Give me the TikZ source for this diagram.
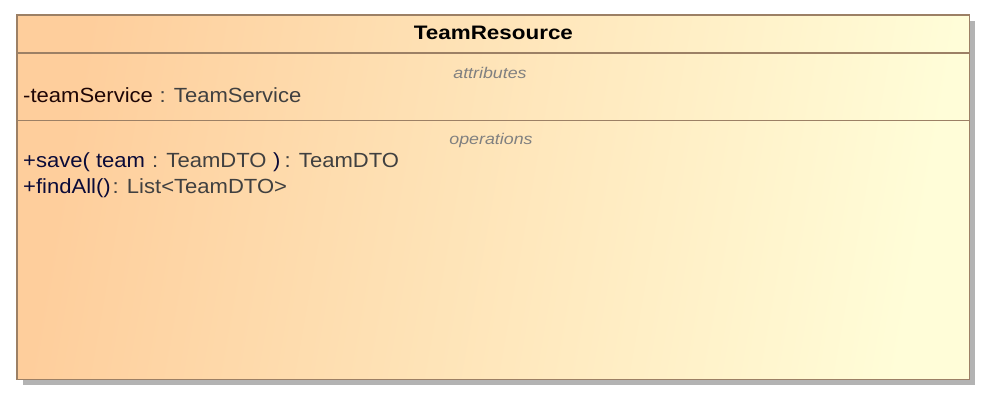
\documentclass[tikz,border=0pt]{standalone}
\usepackage{fontspec}
\setmainfont[FakeStretch=1.075]{Liberation Sans}
\newfontfamily\widesans[FakeStretch=1.15]{Liberation Sans}
\usetikzlibrary{shadings}
\definecolor{umlborder}{HTML}{9C8065}
\definecolor{umlshadow}{HTML}{B3B3B3}
\definecolor{fillwarm}{HTML}{FECE9C}
\definecolor{fillpale}{HTML}{FFFDD8}
\definecolor{namedark}{HTML}{1E0505}
\definecolor{opdark}{HTML}{0A0A38}
\definecolor{typegray}{HTML}{404040}
\definecolor{sectiongray}{HTML}{808080}
\tikzset{
  classtitle/.style={inner sep=0pt, anchor=base, font=\widesans\fontsize{19.5}{23}\selectfont\bfseries, text=black},
  sectionlabel/.style={inner sep=0pt, anchor=base, font=\widesans\fontsize{15.5}{19}\selectfont\itshape, text=sectiongray},
  member/.style={inner sep=0pt, anchor=base west, font=\fontsize{20.5}{24}\selectfont},
  attrname/.style={member, text=namedark},
  opname/.style={member, text=opdark},
  typepart/.style={member, text=typegray},
  divider/.style={draw=umlborder, line width=1.5pt},
}
\begin{document}
\begin{tikzpicture}[x=1pt, y=-1pt]
  \useasboundingbox (0,0) rectangle (994,406);
  % drop shadow
  \fill[umlshadow] (23,21) rectangle (975,385);
  % class body with warm gradient
  \shade[left color=fillwarm, right color=fillpale, shading angle=80]
    (17,15) rectangle (969.5,379.5);
  \draw[umlborder, line width=1.5pt] (17,15) rectangle (969.5,379.5);
  \draw[divider] (17,53) -- (969.5,53);
  \draw[divider] (17,120.5) -- (969.5,120.5);
  % title
  \node[classtitle] (title) at (493.4,39.7) {TeamResource};
  % attributes compartment
  \node[sectionlabel] (attrlabel) at (490,78.3) {attributes};
  \node[attrname] (attr) at (23,103) {-teamService};
  \node[typepart] (attrtype) at (159.5,103) {: TeamService};
  % operations compartment
  \node[sectionlabel] (oplabel) at (491,145) {operations};
  \node[opname] (save) at (23,168) {+save( team};
  \node[typepart] (saveparam) at (152,168) {: TeamDTO};
  \node[opname] (saveclose) at (273,168) {)};
  \node[typepart] (savetype) at (284.5,168) {: TeamDTO};
  \node[opname] (find) at (23,194) {+findAll()};
  \node[typepart] (findtype) at (112.5,194) {: List<TeamDTO>};
\end{tikzpicture}
\end{document}
